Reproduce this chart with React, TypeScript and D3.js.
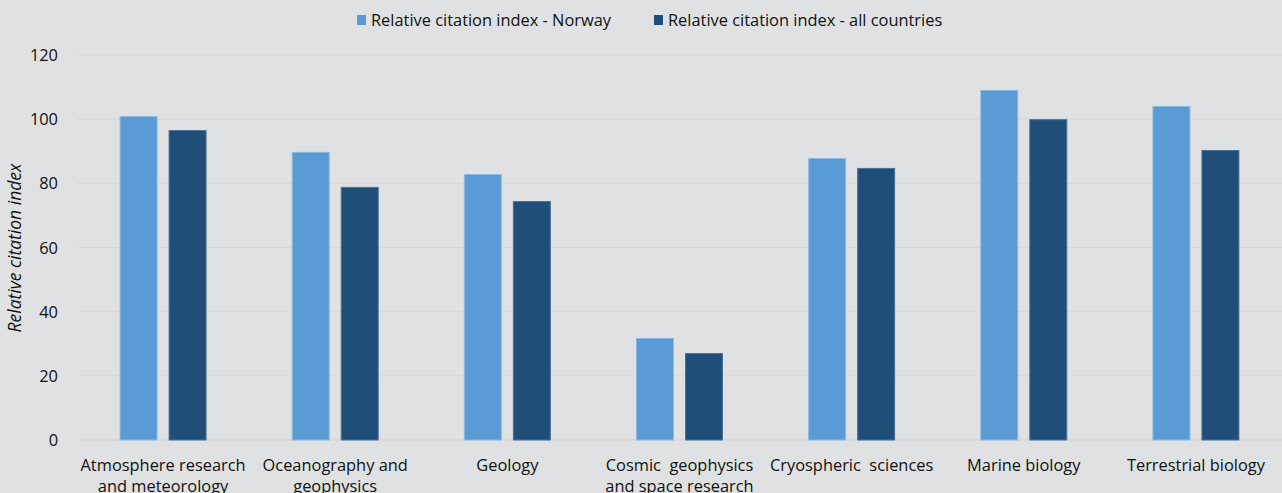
import React, { useEffect, useRef } from 'react';
import * as d3 from 'd3';

const categories = [
  ['Atmosphere research', 'and meteorology'],
  ['Oceanography and', 'geophysics'],
  ['Geology'],
  ['Cosmic  geophysics', 'and space research'],
  ['Cryospheric  sciences'],
  ['Marine biology'],
  ['Terrestrial biology'],
];
const norway = [101, 89.8, 82.9, 31.8, 87.9, 109.1, 104.1];
const allCountries = [96.6, 78.9, 74.5, 27.1, 84.8, 100, 90.4];
const seriesNames = ['Relative citation index - Norway', 'Relative citation index - all countries'];
const yTicks = [0, 20, 40, 60, 80, 100, 120];

const App = () => {
  const svgRef = useRef<SVGSVGElement>(null);

  useEffect(() => {
    const W = 1282;
    const H = 493;
    const left = 77;
    const top = 55;
    const bottom = 440;
    const font = '"Open Sans", Lato, sans-serif';
    const fs = '16.4px';
    const colors = ['#5B9BD5', '#1F4E79'];
    const strokes = ['#8CB9E1', '#4C7297'];

    const svg = d3.select(svgRef.current).attr('width', W).attr('height', H);
    svg.selectAll('*').remove();

    svg.append('rect').attr('width', W).attr('height', H).attr('fill', '#E0E1E3');

    const x = d3
      .scaleBand<number>()
      .domain(d3.range(categories.length))
      .range([left, W]);
    const y = d3.scaleLinear().domain([0, 120]).range([bottom, top]);

    // gridlines
    svg
      .selectAll('.grid')
      .data(yTicks)
      .enter()
      .append('line')
      .attr('x1', left)
      .attr('x2', W)
      .attr('y1', (d) => y(d))
      .attr('y2', (d) => y(d))
      .attr('stroke', (d) => (d === 0 ? '#D0D1D3' : '#D6D7D9'))
      .attr('stroke-width', 1);

    // y tick labels
    svg
      .selectAll('.ytick')
      .data(yTicks)
      .enter()
      .append('text')
      .attr('x', 58)
      .attr('y', (d) => y(d) + 6)
      .attr('text-anchor', 'end')
      .style('font-family', font)
      .style('font-size', fs)
      .style('fill', '#111')
      .text((d) => d);

    // y title
    svg
      .append('text')
      .attr('transform', `translate(21, 248) rotate(-90)`)
      .attr('text-anchor', 'middle')
      .style('font-family', font)
      .style('font-size', '17.5px')
      .style('font-style', 'italic')
      .style('fill', '#111')
      .text('Relative citation index');

    // bars
    const barW = 38;
    const gap = 11;
    const series = [norway, allCountries];
    series.forEach((vals, s) => {
      svg
        .selectAll(`.bar${s}`)
        .data(vals)
        .enter()
        .append('rect')
        .attr('x', (d, i) => x(i)! + x.bandwidth() / 2 - barW - gap / 2 + s * (barW + gap) + 0.5)
        .attr('y', (d) => y(d) + 0.5)
        .attr('width', barW - 1)
        .attr('height', (d) => bottom - y(d) - 0.5)
        .attr('fill', colors[s])
        .attr('stroke', strokes[s])
        .attr('stroke-width', 1);
    });

    // x labels
    categories.forEach((lines, i) => {
      lines.forEach((line, j) => {
        svg
          .append('text')
          .attr('x', x(i)! + x.bandwidth() / 2)
          .attr('y', 471 + j * 21)
          .attr('text-anchor', 'middle')
          .style('font-family', font)
          .style('font-size', fs)
          .style('fill', '#111')
          .style('white-space', 'pre')
          .text(line);
      });
    });

    // legend
    const legendX = [357, 654];
    seriesNames.forEach((name, s) => {
      svg
        .append('rect')
        .attr('x', legendX[s])
        .attr('y', 15)
        .attr('width', 9)
        .attr('height', 10)
        .attr('fill', colors[s]);
      svg
        .append('text')
        .attr('x', legendX[s] + 14)
        .attr('y', 26)
        .style('font-family', font)
        .style('font-size', fs)
        .style('fill', '#111')
        .text(name);
    });
  }, []);

  return (
    <div style={{ position: 'absolute', left: 0, top: 0 }}>
      <svg ref={svgRef} style={{ display: 'block' }}></svg>
    </div>
  );
};

export default App;
